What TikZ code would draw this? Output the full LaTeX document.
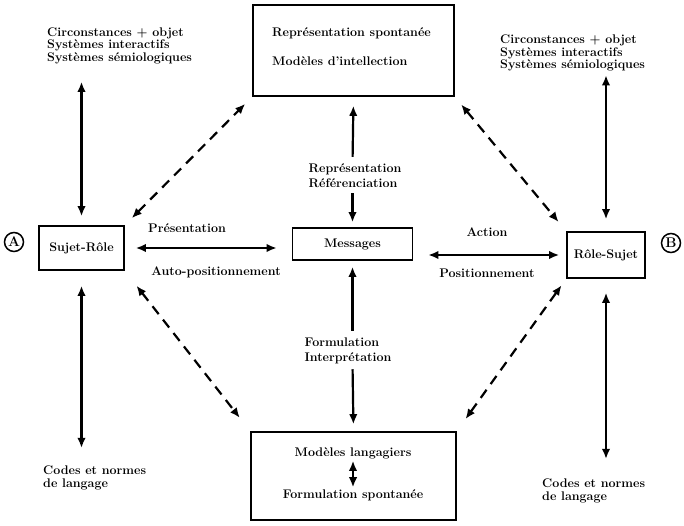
\documentclass[tikz,border=0pt]{standalone}
\usetikzlibrary{arrows.meta}
\begin{document}
\begin{tikzpicture}[x=1pt,y=-1pt,
    font=\fontsize{12.5}{12.5}\selectfont\bfseries,
    box/.style={draw,line width=1.6pt,inner sep=0pt},
    txt/.style={align=left,inner sep=0pt},
    mid/.style={txt,font=\fontsize{12.5}{15}\selectfont\bfseries},
    rond/.style={draw,circle,line width=1.5pt,inner sep=0pt,minimum size=19pt,font=\fontsize{14}{14}\selectfont\bfseries},
    link/.style={line width=2.2pt,{Latex[length=10pt,width=8.5pt]}-{Latex[length=10pt,width=8.5pt]}},
    arr/.style={line width=2.2pt,-{Latex[length=10pt,width=8.5pt]}},
    dlink/.style={link,dash pattern=on 10pt off 7pt}]
  \useasboundingbox (0,0) rectangle (684,526);

  % boxes
  \node[box,minimum width=201,minimum height=91] (intel) at (353.5,50.5) {};
  \node[txt,anchor=west] (reprsp) at (272,33) {Représentation spontanée};
  \node[txt,anchor=west] (modint) at (272,61) {Modèles d'intellection};

  \node[box,minimum width=85,minimum height=44] (sujet) at (81.5,248) {Sujet-Rôle};
  \node[box,minimum width=120,minimum height=32] (msg) at (352.5,244) {Messages};
  \node[box,minimum width=78,minimum height=46] (role) at (606,255) {Rôle-Sujet};
  \node[box,minimum width=205,minimum height=88] (lang) at (353.5,476) {};
  \node[inner sep=2pt] (modlang) at (353,453) {Modèles langagiers};
  \node[inner sep=2pt] (formsp) at (353,495) {Formulation spontanée};

  \node[rond] (ptA) at (14,242) {A};
  \node[rond] (ptB) at (671,243) {B};

  % texts
  \node[txt,anchor=west] (ctxA) at (47,45.5) {Circonstances + objet\\Systèmes interactifs\\Systèmes sémiologiques};
  \node[txt,anchor=west] (ctxB) at (500,53) {Circonstances + objet\\Systèmes interactifs\\Systèmes sémiologiques};
  \node[txt,anchor=west] (codA) at (43,478) {Codes et normes\\de langage};
  \node[txt,anchor=west] (codB) at (542,491) {Codes et normes\\de langage};

  \node[mid] (repr) at (355,176) {Représentation\\Référenciation};
  \node[mid] (formint) at (348,351) {Formulation\\Interprétation};
  \node[txt] (pres) at (187,228) {Présentation};
  \node[txt] (autopos) at (216,272) {Auto-positionnement};
  \node[txt] (action) at (487,232) {Action};
  \node[txt] (posit) at (487,273) {Positionnement};

  % arrows
  \draw[link,shorten <=18pt,shorten >=9pt] (ctxA.south -| sujet.north) -- (sujet.north);
  \draw[link,shorten <=15pt,shorten >=18pt] (sujet.south) -- (codA.north -| sujet.south);
  \draw[link,shorten <=4pt,shorten >=12pt] (ctxB.south -| role.north) -- (role.north);
  \draw[link,shorten <=14pt,shorten >=20pt] (role.south) -- (codB.north -| role.south);

  \draw[arr,shorten <=7pt,shorten >=9pt] (repr.north -| msg.north) -- (intel.south);
  \draw[arr,shorten <=5pt,shorten >=5pt] (repr.south -| msg.north) -- (msg.north);
  \draw[arr,shorten <=7pt,shorten >=6pt] (formint.north -| msg.south) -- (msg.south);
  \draw[arr,shorten <=5pt,shorten >=7pt] (formint.south -| msg.south) -- (lang.north);
  \draw[link,line width=1.8pt] (modlang) -- (formsp);

  \draw[link,shorten <=11pt,shorten >=15pt] (sujet.east) -- (sujet.east -| msg.west);
  \draw[link,shorten <=15pt,shorten >=7pt] (role.west -| msg.east) -- (role.west);

  \draw[dlink,shorten <=10pt,shorten >=10pt] (sujet.north east) -- (intel.south west);
  \draw[dlink,shorten <=10pt,shorten >=12pt] (intel.south east) -- (role.north west);
  \draw[dlink,shorten <=19pt,shorten >=17pt] (sujet.south east) -- (lang.north west);
  \draw[dlink,shorten <=15pt,shorten >=8pt] (lang.north east) -- (role.south west);
\end{tikzpicture}
\end{document}
